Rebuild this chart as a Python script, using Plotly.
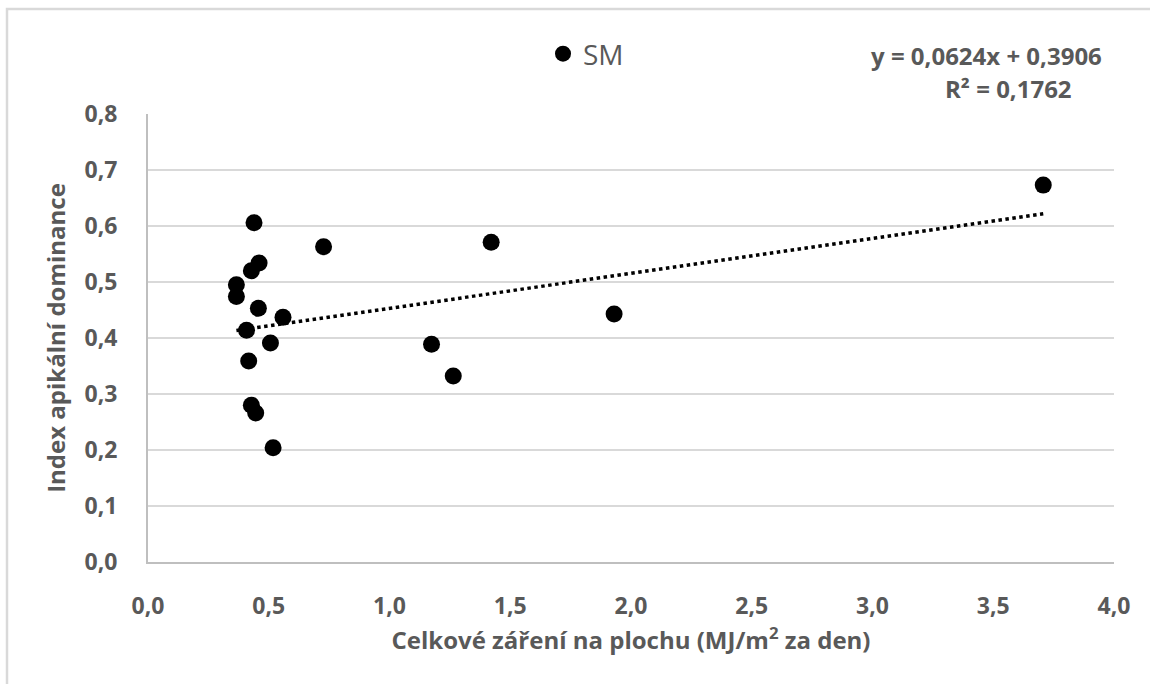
import plotly.graph_objects as go

# Data
radiation = [0.439, 0.727, 0.460, 0.428, 0.366, 0.366, 0.457, 0.559, 0.408, 0.507,
             0.417, 0.428, 0.446, 0.518, 1.174, 1.264, 1.421, 1.930, 3.707]
apical_index = [0.606, 0.563, 0.534, 0.520, 0.495, 0.474, 0.453, 0.437, 0.414, 0.391,
                0.359, 0.280, 0.266, 0.204, 0.389, 0.332, 0.571, 0.443, 0.673]
slope = 0.0624
intercept = 0.3906
r_squared = "0,1762"
series_name = "SM"
x_ticks = [0, 0.5, 1.0, 1.5, 2.0, 2.5, 3.0, 3.5, 4.0]
y_ticks = [0, 0.1, 0.2, 0.3, 0.4, 0.5, 0.6, 0.7, 0.8]

W, H = 1150, 684
ML, MR, MT, MB = 148, 36, 114, 122
pw, ph = W - ML - MR, H - MT - MB

def px(x):
    return (x - ML) / pw

def py(y):
    return (H - MB - y) / ph

font_family = "'Open Sans', Lato, sans-serif"
grey = "#595959"

xmin, xmax = min(radiation), max(radiation)
trend_x = [xmin, xmax]
trend_y = [slope * v + intercept for v in trend_x]

fig = go.Figure()
fig.add_trace(go.Scatter(
    x=radiation, y=apical_index, mode="markers", name=series_name,
    marker=dict(color="black", size=17, line=dict(width=0)),
    showlegend=True,
))
fig.add_trace(go.Scatter(
    x=trend_x, y=trend_y, mode="lines", showlegend=False,
    line=dict(color="black", width=3.5, dash="dot"),
))

fig.update_layout(
    width=W, height=H,
    margin=dict(l=ML, r=MR, t=MT, b=MB),
    paper_bgcolor="white", plot_bgcolor="white",
    separators=", ",
    font=dict(family=font_family, color=grey),
    showlegend=True,
    legend=dict(
        x=px(543), y=py(54), xanchor="left", yanchor="middle",
        font=dict(size=28, color=grey, family=font_family),
        bgcolor="rgba(0,0,0,0)", itemsizing="trace", itemwidth=30,
    ),
    xaxis=dict(
        range=[0, 4], tickvals=x_ticks, tickformat=".1f",
        showgrid=False, zeroline=False,
        showline=True, linecolor="#bfbfbf", linewidth=2,
        ticks="", ticklabelstandoff=22,
        tickfont=dict(size=23, color=grey, family=font_family, weight="bold"),
        title=dict(
            text="Celkové záření na plochu (MJ/m<sup>2</sup> za den)",
            font=dict(size=24, color=grey, family=font_family, weight="bold"),
            standoff=11,
        ),
    ),
    yaxis=dict(
        range=[0, 0.8], tickvals=y_ticks, tickformat=".1f",
        showgrid=True, gridcolor="#d9d9d9", gridwidth=2,
        zeroline=False,
        showline=True, linecolor="#bfbfbf", linewidth=2,
        ticks="", ticklabelstandoff=24,
        tickfont=dict(size=23, color=grey, family=font_family, weight="bold"),
        title=dict(
            text="Index apikální dominance",
            font=dict(size=24, color=grey, family=font_family, weight="bold"),
            standoff=12,
        ),
    ),
    shapes=[
        dict(type="path", xref="paper", yref="paper",
             path=f"M {px(7)},{py(684)} L {px(7)},{py(9)} L {px(1150)},{py(9)}",
             line=dict(color="#d9d9d9", width=2.5), layer="below"),
    ],
    annotations=[
        dict(xref="paper", yref="paper", x=px(1104), y=py(56),
             xanchor="right", yanchor="middle", showarrow=False,
             text=f"y = {str(slope).replace('.', ',')}x + {str(intercept).replace('.', ',')}",
             font=dict(size=24, color=grey, family=font_family, weight="bold")),
        dict(xref="paper", yref="paper", x=px(1074), y=py(88),
             xanchor="right", yanchor="middle", showarrow=False,
             text=f"R² = {r_squared}",
             font=dict(size=24, color=grey, family=font_family, weight="bold")),
    ],
)

fig.write_html("out.html")
